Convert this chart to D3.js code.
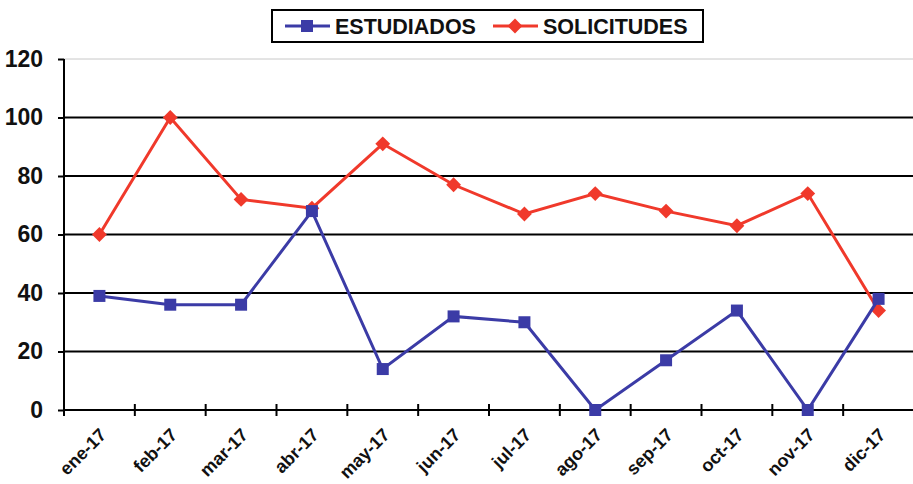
<!DOCTYPE html>
<html lang="es">
<head>
<meta charset="UTF-8">
<title>Estudiados y solicitudes 2017</title>
<style>
  body { margin: 0; background: #fff; }
  text { font-family: "Liberation Sans", Arial, sans-serif; font-weight: bold; }
</style>
</head>
<body>
<script src="https://cdn.jsdelivr.net/npm/d3@7"></script>
<script>
var meses = ["ene-17", "feb-17", "mar-17", "abr-17", "may-17", "jun-17", "jul-17", "ago-17", "sep-17", "oct-17", "nov-17", "dic-17"];
var estudiados = [39, 36, 36, 68, 14, 32, 30, 0, 17, 34, 0, 38];
var solicitudes = [60, 100, 72, 69, 91, 77, 67, 74, 68, 63, 74, 34];
var yTicks = [0, 20, 40, 60, 80, 100, 120];

var W = 913, H = 484;
var margin = {top: 59, right: -1, bottom: 74, left: 64};
var azul = "#3b3ba6", rojo = "#f0392b";

var svg = d3.select("body").append("svg").attr("width", W).attr("height", H);

var x = d3.scaleBand().domain(meses).range([margin.left, W - margin.right]);
var y = d3.scaleLinear().domain([0, 120]).range([H - margin.bottom, margin.top]);

// lineas de cuadricula
svg.append("g").selectAll("line").data(yTicks.filter(function (d) { return d > 0; }))
  .join("line")
  .attr("x1", margin.left).attr("x2", W)
  .attr("y1", function (d) { return y(d); }).attr("y2", function (d) { return y(d); })
  .attr("stroke", function (d) { return d == 120 ? "#c8c8c8" : "#000"; })
  .attr("stroke-width", function (d) { return d == 120 ? 1 : 2; });

// eje y
var gy = svg.append("g").attr("transform", "translate(" + margin.left + ",0)")
  .call(d3.axisLeft(y).tickValues(yTicks).tickSize(6).tickPadding(15));
gy.select(".domain").attr("stroke", "#000").attr("stroke-width", 2).attr("d", "M0," + y(120) + "V" + y(0));
gy.selectAll(".tick line").attr("stroke-width", 2);
gy.selectAll(".tick text").attr("font-size", 23).attr("fill", "#111");

// eje x
var gx = svg.append("g").attr("transform", "translate(0," + y(0) + ")");
gx.append("line").attr("x1", margin.left).attr("x2", W).attr("stroke", "#000").attr("stroke-width", 2);
gx.selectAll(".tk").data(meses.concat(["fin"])).join("line").attr("class", "tk")
  .attr("x1", function (d, i) { return margin.left + i * x.bandwidth(); })
  .attr("x2", function (d, i) { return margin.left + i * x.bandwidth(); })
  .attr("y1", -6).attr("y2", 6).attr("stroke", "#000").attr("stroke-width", 2);
gx.selectAll(".lbl").data(meses).join("text").attr("class", "lbl")
  .attr("text-anchor", "end").attr("font-size", 18).attr("fill", "#111")
  .attr("transform", function (d) { return "translate(" + (x(d) + x.bandwidth() / 2 + 8) + ",26) rotate(-45)"; })
  .text(function (d) { return d; });

var cx = function (d, i) { return x(meses[i]) + x.bandwidth() / 2; };
var linea = d3.line().x(cx).y(function (d) { return y(d); });

// solicitudes
svg.append("path").datum(solicitudes).attr("d", linea)
  .attr("fill", "none").attr("stroke", rojo).attr("stroke-width", 3);
svg.append("g").selectAll("path").data(solicitudes).join("path")
  .attr("d", d3.symbol(d3.symbolSquare, 110))
  .attr("transform", function (d, i) { return "translate(" + cx(d, i) + "," + y(d) + ") rotate(45)"; })
  .attr("fill", rojo);

// estudiados
svg.append("path").datum(estudiados).attr("d", linea)
  .attr("fill", "none").attr("stroke", azul).attr("stroke-width", 3);
svg.append("g").selectAll("rect").data(estudiados).join("rect")
  .attr("x", function (d, i) { return cx(d, i) - 6; }).attr("y", function (d) { return y(d) - 6; })
  .attr("width", 12).attr("height", 12).attr("fill", azul);

// leyenda
var ley = svg.append("g");
ley.append("rect").attr("x", 272).attr("y", 10).attr("width", 431).attr("height", 32)
  .attr("fill", "#fff").attr("stroke", "#000").attr("stroke-width", 2);
ley.append("line").attr("x1", 285).attr("x2", 330).attr("y1", 26).attr("y2", 26).attr("stroke", azul).attr("stroke-width", 3);
ley.append("rect").attr("x", 301).attr("y", 20).attr("width", 12).attr("height", 12).attr("fill", azul);
ley.append("text").attr("x", 335).attr("y", 34).attr("font-size", 21.5).attr("fill", "#111").text("ESTUDIADOS");
ley.append("line").attr("x1", 493).attr("x2", 538).attr("y1", 26).attr("y2", 26).attr("stroke", rojo).attr("stroke-width", 3);
ley.append("path").attr("d", d3.symbol(d3.symbolSquare, 110)).attr("transform", "translate(515,26) rotate(45)").attr("fill", rojo);
ley.append("text").attr("x", 543).attr("y", 34).attr("font-size", 21.5).attr("fill", "#111").text("SOLICITUDES");
</script>
</body>
</html>
